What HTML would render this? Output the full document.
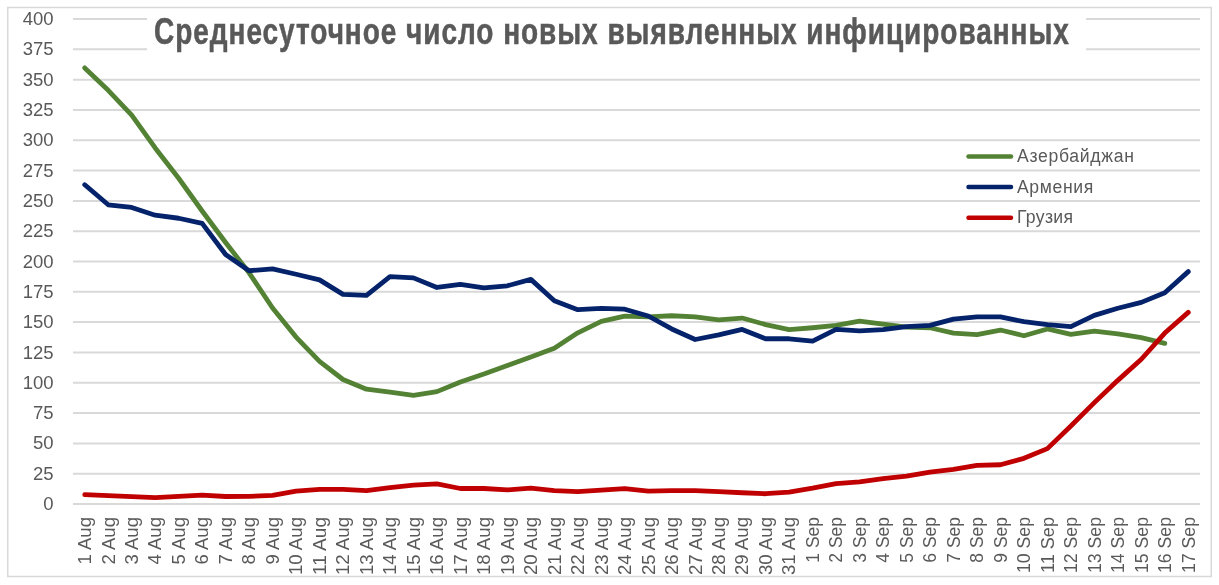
<!DOCTYPE html>
<html><head><meta charset="utf-8"><style>
html,body{margin:0;padding:0;background:#fff;width:1219px;height:585px;overflow:hidden}
svg{display:block;will-change:transform}
.ax{font-family:"Liberation Sans",sans-serif;font-size:17.6px;fill:#595959}
.ay{font-family:"Liberation Sans",sans-serif;font-size:18.5px;fill:#595959}
.title{font-family:"Liberation Sans",sans-serif;font-size:36.4px;font-weight:bold;fill:#595959;stroke:#595959;stroke-width:0.55px}
</style></head><body>
<svg width="1219" height="585" viewBox="0 0 1219 585">
<rect x="7.75" y="7.5" width="1203.5" height="569" fill="none" stroke="#d9d9d9" stroke-width="1.5"/>
<line x1="73.0" y1="504.00" x2="1200.0" y2="504.00" stroke="#d9d9d9" stroke-width="2"/>
<line x1="73.0" y1="473.69" x2="1200.0" y2="473.69" stroke="#d9d9d9" stroke-width="2"/>
<line x1="73.0" y1="443.38" x2="1200.0" y2="443.38" stroke="#d9d9d9" stroke-width="2"/>
<line x1="73.0" y1="413.06" x2="1200.0" y2="413.06" stroke="#d9d9d9" stroke-width="2"/>
<line x1="73.0" y1="382.75" x2="1200.0" y2="382.75" stroke="#d9d9d9" stroke-width="2"/>
<line x1="73.0" y1="352.44" x2="1200.0" y2="352.44" stroke="#d9d9d9" stroke-width="2"/>
<line x1="73.0" y1="322.12" x2="1200.0" y2="322.12" stroke="#d9d9d9" stroke-width="2"/>
<line x1="73.0" y1="291.81" x2="1200.0" y2="291.81" stroke="#d9d9d9" stroke-width="2"/>
<line x1="73.0" y1="261.50" x2="1200.0" y2="261.50" stroke="#d9d9d9" stroke-width="2"/>
<line x1="73.0" y1="231.19" x2="1200.0" y2="231.19" stroke="#d9d9d9" stroke-width="2"/>
<line x1="73.0" y1="200.88" x2="1200.0" y2="200.88" stroke="#d9d9d9" stroke-width="2"/>
<line x1="73.0" y1="170.56" x2="1200.0" y2="170.56" stroke="#d9d9d9" stroke-width="2"/>
<line x1="73.0" y1="140.25" x2="1200.0" y2="140.25" stroke="#d9d9d9" stroke-width="2"/>
<line x1="73.0" y1="109.94" x2="1200.0" y2="109.94" stroke="#d9d9d9" stroke-width="2"/>
<line x1="73.0" y1="79.63" x2="1200.0" y2="79.63" stroke="#d9d9d9" stroke-width="2"/>
<line x1="73.0" y1="49.31" x2="1200.0" y2="49.31" stroke="#d9d9d9" stroke-width="2"/>
<line x1="73.0" y1="19.00" x2="1200.0" y2="19.00" stroke="#d9d9d9" stroke-width="2"/>
<text x="53.5" y="510.10" text-anchor="end" class="ay">0</text>
<text x="53.5" y="479.79" text-anchor="end" class="ay">25</text>
<text x="53.5" y="449.48" text-anchor="end" class="ay">50</text>
<text x="53.5" y="419.16" text-anchor="end" class="ay">75</text>
<text x="53.5" y="388.85" text-anchor="end" class="ay">100</text>
<text x="53.5" y="358.54" text-anchor="end" class="ay">125</text>
<text x="53.5" y="328.23" text-anchor="end" class="ay">150</text>
<text x="53.5" y="297.91" text-anchor="end" class="ay">175</text>
<text x="53.5" y="267.60" text-anchor="end" class="ay">200</text>
<text x="53.5" y="237.29" text-anchor="end" class="ay">225</text>
<text x="53.5" y="206.97" text-anchor="end" class="ay">250</text>
<text x="53.5" y="176.66" text-anchor="end" class="ay">275</text>
<text x="53.5" y="146.35" text-anchor="end" class="ay">300</text>
<text x="53.5" y="116.04" text-anchor="end" class="ay">325</text>
<text x="53.5" y="85.73" text-anchor="end" class="ay">350</text>
<text x="53.5" y="55.41" text-anchor="end" class="ay">375</text>
<text x="53.5" y="25.10" text-anchor="end" class="ay">400</text>
<text transform="translate(91.04,517.0) rotate(-90)" text-anchor="end" class="ax" textLength="47.54" lengthAdjust="spacingAndGlyphs">1 Aug</text>
<text transform="translate(114.52,517.0) rotate(-90)" text-anchor="end" class="ax" textLength="47.54" lengthAdjust="spacingAndGlyphs">2 Aug</text>
<text transform="translate(138.00,517.0) rotate(-90)" text-anchor="end" class="ax" textLength="47.54" lengthAdjust="spacingAndGlyphs">3 Aug</text>
<text transform="translate(161.48,517.0) rotate(-90)" text-anchor="end" class="ax" textLength="47.54" lengthAdjust="spacingAndGlyphs">4 Aug</text>
<text transform="translate(184.96,517.0) rotate(-90)" text-anchor="end" class="ax" textLength="47.54" lengthAdjust="spacingAndGlyphs">5 Aug</text>
<text transform="translate(208.44,517.0) rotate(-90)" text-anchor="end" class="ax" textLength="47.54" lengthAdjust="spacingAndGlyphs">6 Aug</text>
<text transform="translate(231.91,517.0) rotate(-90)" text-anchor="end" class="ax" textLength="47.54" lengthAdjust="spacingAndGlyphs">7 Aug</text>
<text transform="translate(255.39,517.0) rotate(-90)" text-anchor="end" class="ax" textLength="47.54" lengthAdjust="spacingAndGlyphs">8 Aug</text>
<text transform="translate(278.87,517.0) rotate(-90)" text-anchor="end" class="ax" textLength="47.54" lengthAdjust="spacingAndGlyphs">9 Aug</text>
<text transform="translate(302.35,517.0) rotate(-90)" text-anchor="end" class="ax" textLength="57.99" lengthAdjust="spacingAndGlyphs">10 Aug</text>
<text transform="translate(325.83,517.0) rotate(-90)" text-anchor="end" class="ax" textLength="57.99" lengthAdjust="spacingAndGlyphs">11 Aug</text>
<text transform="translate(349.31,517.0) rotate(-90)" text-anchor="end" class="ax" textLength="57.99" lengthAdjust="spacingAndGlyphs">12 Aug</text>
<text transform="translate(372.79,517.0) rotate(-90)" text-anchor="end" class="ax" textLength="57.99" lengthAdjust="spacingAndGlyphs">13 Aug</text>
<text transform="translate(396.27,517.0) rotate(-90)" text-anchor="end" class="ax" textLength="57.99" lengthAdjust="spacingAndGlyphs">14 Aug</text>
<text transform="translate(419.75,517.0) rotate(-90)" text-anchor="end" class="ax" textLength="57.99" lengthAdjust="spacingAndGlyphs">15 Aug</text>
<text transform="translate(443.23,517.0) rotate(-90)" text-anchor="end" class="ax" textLength="57.99" lengthAdjust="spacingAndGlyphs">16 Aug</text>
<text transform="translate(466.71,517.0) rotate(-90)" text-anchor="end" class="ax" textLength="57.99" lengthAdjust="spacingAndGlyphs">17 Aug</text>
<text transform="translate(490.19,517.0) rotate(-90)" text-anchor="end" class="ax" textLength="57.99" lengthAdjust="spacingAndGlyphs">18 Aug</text>
<text transform="translate(513.66,517.0) rotate(-90)" text-anchor="end" class="ax" textLength="57.99" lengthAdjust="spacingAndGlyphs">19 Aug</text>
<text transform="translate(537.14,517.0) rotate(-90)" text-anchor="end" class="ax" textLength="57.99" lengthAdjust="spacingAndGlyphs">20 Aug</text>
<text transform="translate(560.62,517.0) rotate(-90)" text-anchor="end" class="ax" textLength="57.99" lengthAdjust="spacingAndGlyphs">21 Aug</text>
<text transform="translate(584.10,517.0) rotate(-90)" text-anchor="end" class="ax" textLength="57.99" lengthAdjust="spacingAndGlyphs">22 Aug</text>
<text transform="translate(607.58,517.0) rotate(-90)" text-anchor="end" class="ax" textLength="57.99" lengthAdjust="spacingAndGlyphs">23 Aug</text>
<text transform="translate(631.06,517.0) rotate(-90)" text-anchor="end" class="ax" textLength="57.99" lengthAdjust="spacingAndGlyphs">24 Aug</text>
<text transform="translate(654.54,517.0) rotate(-90)" text-anchor="end" class="ax" textLength="57.99" lengthAdjust="spacingAndGlyphs">25 Aug</text>
<text transform="translate(678.02,517.0) rotate(-90)" text-anchor="end" class="ax" textLength="57.99" lengthAdjust="spacingAndGlyphs">26 Aug</text>
<text transform="translate(701.50,517.0) rotate(-90)" text-anchor="end" class="ax" textLength="57.99" lengthAdjust="spacingAndGlyphs">27 Aug</text>
<text transform="translate(724.98,517.0) rotate(-90)" text-anchor="end" class="ax" textLength="57.99" lengthAdjust="spacingAndGlyphs">28 Aug</text>
<text transform="translate(748.46,517.0) rotate(-90)" text-anchor="end" class="ax" textLength="57.99" lengthAdjust="spacingAndGlyphs">29 Aug</text>
<text transform="translate(771.94,517.0) rotate(-90)" text-anchor="end" class="ax" textLength="57.99" lengthAdjust="spacingAndGlyphs">30 Aug</text>
<text transform="translate(795.41,517.0) rotate(-90)" text-anchor="end" class="ax" textLength="57.99" lengthAdjust="spacingAndGlyphs">31 Aug</text>
<text transform="translate(818.89,517.0) rotate(-90)" text-anchor="end" class="ax" textLength="45.63" lengthAdjust="spacingAndGlyphs">1 Sep</text>
<text transform="translate(842.37,517.0) rotate(-90)" text-anchor="end" class="ax" textLength="45.63" lengthAdjust="spacingAndGlyphs">2 Sep</text>
<text transform="translate(865.85,517.0) rotate(-90)" text-anchor="end" class="ax" textLength="45.63" lengthAdjust="spacingAndGlyphs">3 Sep</text>
<text transform="translate(889.33,517.0) rotate(-90)" text-anchor="end" class="ax" textLength="45.63" lengthAdjust="spacingAndGlyphs">4 Sep</text>
<text transform="translate(912.81,517.0) rotate(-90)" text-anchor="end" class="ax" textLength="45.63" lengthAdjust="spacingAndGlyphs">5 Sep</text>
<text transform="translate(936.29,517.0) rotate(-90)" text-anchor="end" class="ax" textLength="45.63" lengthAdjust="spacingAndGlyphs">6 Sep</text>
<text transform="translate(959.77,517.0) rotate(-90)" text-anchor="end" class="ax" textLength="45.63" lengthAdjust="spacingAndGlyphs">7 Sep</text>
<text transform="translate(983.25,517.0) rotate(-90)" text-anchor="end" class="ax" textLength="45.63" lengthAdjust="spacingAndGlyphs">8 Sep</text>
<text transform="translate(1006.73,517.0) rotate(-90)" text-anchor="end" class="ax" textLength="45.63" lengthAdjust="spacingAndGlyphs">9 Sep</text>
<text transform="translate(1030.21,517.0) rotate(-90)" text-anchor="end" class="ax" textLength="56.07" lengthAdjust="spacingAndGlyphs">10 Sep</text>
<text transform="translate(1053.69,517.0) rotate(-90)" text-anchor="end" class="ax" textLength="56.07" lengthAdjust="spacingAndGlyphs">11 Sep</text>
<text transform="translate(1077.16,517.0) rotate(-90)" text-anchor="end" class="ax" textLength="56.07" lengthAdjust="spacingAndGlyphs">12 Sep</text>
<text transform="translate(1100.64,517.0) rotate(-90)" text-anchor="end" class="ax" textLength="56.07" lengthAdjust="spacingAndGlyphs">13 Sep</text>
<text transform="translate(1124.12,517.0) rotate(-90)" text-anchor="end" class="ax" textLength="56.07" lengthAdjust="spacingAndGlyphs">14 Sep</text>
<text transform="translate(1147.60,517.0) rotate(-90)" text-anchor="end" class="ax" textLength="56.07" lengthAdjust="spacingAndGlyphs">15 Sep</text>
<text transform="translate(1171.08,517.0) rotate(-90)" text-anchor="end" class="ax" textLength="56.07" lengthAdjust="spacingAndGlyphs">16 Sep</text>
<text transform="translate(1194.56,517.0) rotate(-90)" text-anchor="end" class="ax" textLength="56.07" lengthAdjust="spacingAndGlyphs">17 Sep</text>
<rect x="147" y="10" width="939" height="50" fill="#fff"/>
<text transform="translate(154.06,44) scale(0.7686,1)" x="0" y="0" class="title" style="letter-spacing:1.269px">Среднесуточное число новых выявленных инфицированных</text>
<polyline points="84.74,67.90 108.22,90.33 131.70,115.19 155.18,147.93 178.66,178.24 202.14,210.98 225.61,242.50 249.09,272.81 272.57,307.98 296.05,337.07 319.53,361.32 343.01,379.51 366.49,389.21 389.97,392.24 413.45,395.27 436.93,391.64 460.41,381.94 483.89,374.06 507.36,365.57 530.84,357.08 554.32,348.23 577.80,332.83 601.28,321.31 624.76,316.10 648.24,316.95 671.72,315.74 695.20,316.95 718.68,319.86 742.16,318.04 765.64,324.59 789.11,329.68 812.59,327.74 836.07,325.44 859.55,321.19 883.03,324.22 906.51,327.13 929.99,327.74 953.47,333.07 976.95,334.53 1000.43,330.04 1023.91,335.74 1047.39,328.95 1070.86,334.41 1094.34,331.13 1117.82,333.80 1141.30,337.68 1164.78,343.38" fill="none" stroke="#548235" stroke-width="4.8" stroke-linejoin="round" stroke-linecap="round"/>
<polyline points="84.74,184.78 108.22,204.79 131.70,207.46 155.18,215.22 178.66,218.25 202.14,223.34 225.61,254.50 249.09,270.75 272.57,268.93 296.05,274.27 319.53,279.85 343.01,294.39 366.49,295.37 389.97,276.57 413.45,277.90 436.93,287.48 460.41,284.45 483.89,287.85 507.36,285.79 530.84,279.36 554.32,300.82 577.80,309.67 601.28,308.34 624.76,309.19 648.24,315.98 671.72,328.95 695.20,339.50 718.68,334.89 742.16,329.44 765.64,338.77 789.11,338.77 812.59,341.08 836.07,329.44 859.55,330.89 883.03,329.68 906.51,326.65 929.99,325.44 953.47,319.13 976.95,316.95 1000.43,316.95 1023.91,321.68 1047.39,324.59 1070.86,326.65 1094.34,315.37 1117.82,308.22 1141.30,302.40 1164.78,292.70 1188.26,271.60" fill="none" stroke="#04236a" stroke-width="4.8" stroke-linejoin="round" stroke-linecap="round"/>
<polyline points="84.74,494.70 108.22,495.67 131.70,496.64 155.18,497.61 178.66,496.40 202.14,495.06 225.61,496.52 249.09,496.40 272.57,495.31 296.05,491.06 319.53,489.36 343.01,489.36 366.49,490.70 389.97,487.55 413.45,485.12 436.93,483.79 460.41,488.52 483.89,488.52 507.36,489.85 530.84,488.15 554.32,490.70 577.80,491.67 601.28,490.09 624.76,488.52 648.24,491.06 671.72,490.70 695.20,490.70 718.68,491.67 742.16,492.76 765.64,493.73 789.11,492.03 812.59,488.15 836.07,483.54 859.55,481.85 883.03,478.57 906.51,476.03 929.99,472.03 953.47,469.36 976.95,465.36 1000.43,464.75 1023.91,458.32 1047.39,448.62 1070.86,425.95 1094.34,402.67 1117.82,380.36 1141.30,359.26 1164.78,333.07 1188.26,312.34" fill="none" stroke="#c00000" stroke-width="4.8" stroke-linejoin="round" stroke-linecap="round"/>
<line x1="968.5" y1="156.40" x2="1011" y2="156.40" stroke="#548235" stroke-width="4.5" stroke-linecap="round"/>
<text x="1017" y="162.00" class="ax" textLength="117" lengthAdjust="spacing">Азербайджан</text>
<line x1="968.5" y1="187.10" x2="1011" y2="187.10" stroke="#04236a" stroke-width="4.5" stroke-linecap="round"/>
<text x="1017" y="192.70" class="ax" textLength="76.2" lengthAdjust="spacing">Армения</text>
<line x1="968.5" y1="217.80" x2="1011" y2="217.80" stroke="#c00000" stroke-width="4.5" stroke-linecap="round"/>
<text x="1017" y="223.40" class="ax" textLength="56" lengthAdjust="spacing">Грузия</text>
</svg>
</body></html>
